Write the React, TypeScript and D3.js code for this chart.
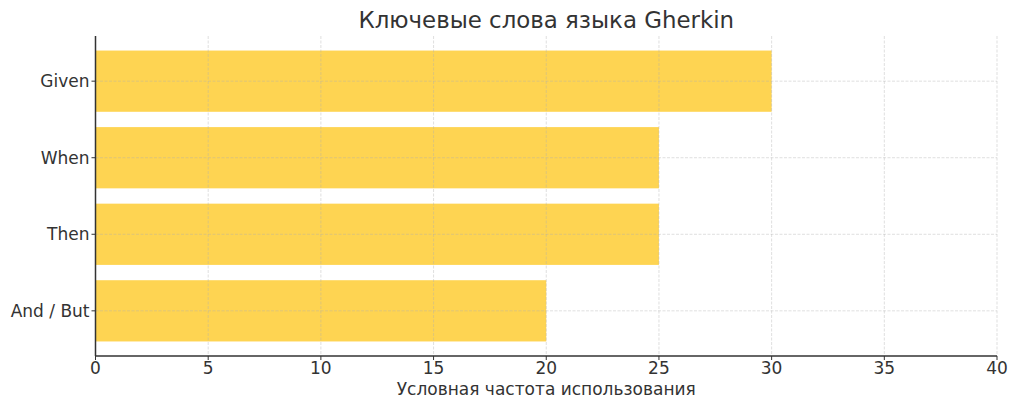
import React, { useEffect, useRef } from 'react';
import * as d3 from 'd3';

const categories = ['Given', 'When', 'Then', 'And / But'];
const values = [30, 25, 25, 20];
const xTicks = [0, 5, 10, 15, 20, 25, 30, 35, 40];

const title = 'Ключевые слова языка Gherkin';
const xLabel = 'Условная частота использования';

const App: React.FC = () => {
  const svgRef = useRef<SVGSVGElement>(null);

  useEffect(() => {
    document.body.style.margin = '0';
    if (!svgRef.current) return;

    const svg = d3.select(svgRef.current);
    svg.selectAll('*').remove();

    const width = 1024;
    const height = 411;
    const margin = { top: 36, right: 27, bottom: 55, left: 95.5 };
    const innerWidth = width - margin.left - margin.right;
    const innerHeight = height - margin.top - margin.bottom;
    const font = '"DejaVu Sans", sans-serif';
    const textColor = '#333';
    const tickSize = 17;

    svg.append('rect')
      .attr('width', width)
      .attr('height', height)
      .attr('fill', '#fff');

    const g = svg.append('g')
      .attr('transform', `translate(${margin.left},${margin.top})`);

    const xScale = d3.scaleLinear()
      .domain([0, 40])
      .range([0, innerWidth]);

    // matplotlib-style barh: bar height 0.8, 5% margin on y
    const n = categories.length;
    const lo = -0.4, hi = n - 1 + 0.4;
    const pad = (hi - lo) * 0.05;
    const yScale = d3.scaleLinear()
      .domain([lo - pad, hi + pad])
      .range([0, innerHeight]);

    // bars
    g.selectAll('rect.bar')
      .data(categories)
      .enter()
      .append('rect')
      .attr('class', 'bar')
      .attr('x', xScale(0))
      .attr('y', (_, i) => yScale(i - 0.4))
      .attr('width', (_, i) => xScale(values[i]) - xScale(0))
      .attr('height', yScale(0.8) - yScale(0))
      .attr('fill', '#fed452');

    // grid
    xTicks.forEach(t => {
      g.append('line')
        .attr('x1', xScale(t))
        .attr('x2', xScale(t))
        .attr('y1', 0)
        .attr('y2', innerHeight)
        .attr('stroke', '#b0b0b0')
        .attr('stroke-opacity', 0.5)
        .attr('stroke-width', 0.8)
        .attr('stroke-dasharray', '3,1.5');
    });
    categories.forEach((_, i) => {
      g.append('line')
        .attr('x1', 0)
        .attr('x2', innerWidth)
        .attr('y1', yScale(i))
        .attr('y2', yScale(i))
        .attr('stroke', '#b0b0b0')
        .attr('stroke-opacity', 0.5)
        .attr('stroke-width', 0.8)
        .attr('stroke-dasharray', '3,1.5');
    });

    // spines
    g.append('line')
      .attr('x1', 0).attr('x2', 0)
      .attr('y1', 0).attr('y2', innerHeight)
      .attr('stroke', textColor)
      .attr('stroke-width', 1.5);
    g.append('line')
      .attr('x1', 0).attr('x2', innerWidth)
      .attr('y1', innerHeight).attr('y2', innerHeight)
      .attr('stroke', textColor)
      .attr('stroke-width', 1.5);

    // x ticks
    xTicks.forEach(t => {
      g.append('line')
        .attr('x1', xScale(t)).attr('x2', xScale(t))
        .attr('y1', innerHeight).attr('y2', innerHeight + 4)
        .attr('stroke', textColor)
        .attr('stroke-width', 1);
      g.append('text')
        .attr('x', xScale(t))
        .attr('y', innerHeight + 18)
        .attr('text-anchor', 'middle')
        .attr('font-family', font)
        .attr('font-size', tickSize)
        .attr('fill', textColor)
        .text(t);
    });

    // y ticks
    categories.forEach((c, i) => {
      g.append('line')
        .attr('x1', -4).attr('x2', 0)
        .attr('y1', yScale(i)).attr('y2', yScale(i))
        .attr('stroke', textColor)
        .attr('stroke-width', 1);
      g.append('text')
        .attr('x', -6)
        .attr('y', yScale(i))
        .attr('dy', '0.36em')
        .attr('text-anchor', 'end')
        .attr('font-family', font)
        .attr('font-size', tickSize)
        .attr('fill', textColor)
        .text(c);
    });

    // x label
    g.append('text')
      .attr('x', innerWidth / 2)
      .attr('y', innerHeight + 39)
      .attr('text-anchor', 'middle')
      .attr('font-family', font)
      .attr('font-size', 17)
      .attr('fill', textColor)
      .text(xLabel);

    // title
    svg.append('text')
      .attr('x', margin.left + innerWidth / 2)
      .attr('y', 27.5)
      .attr('text-anchor', 'middle')
      .attr('font-family', font)
      .attr('font-size', 22.9)
      .attr('fill', textColor)
      .text(title);
  }, []);

  return (
    <svg ref={svgRef} width="1024" height="411" style={{ display: 'block' }}></svg>
  );
};

export default App;
